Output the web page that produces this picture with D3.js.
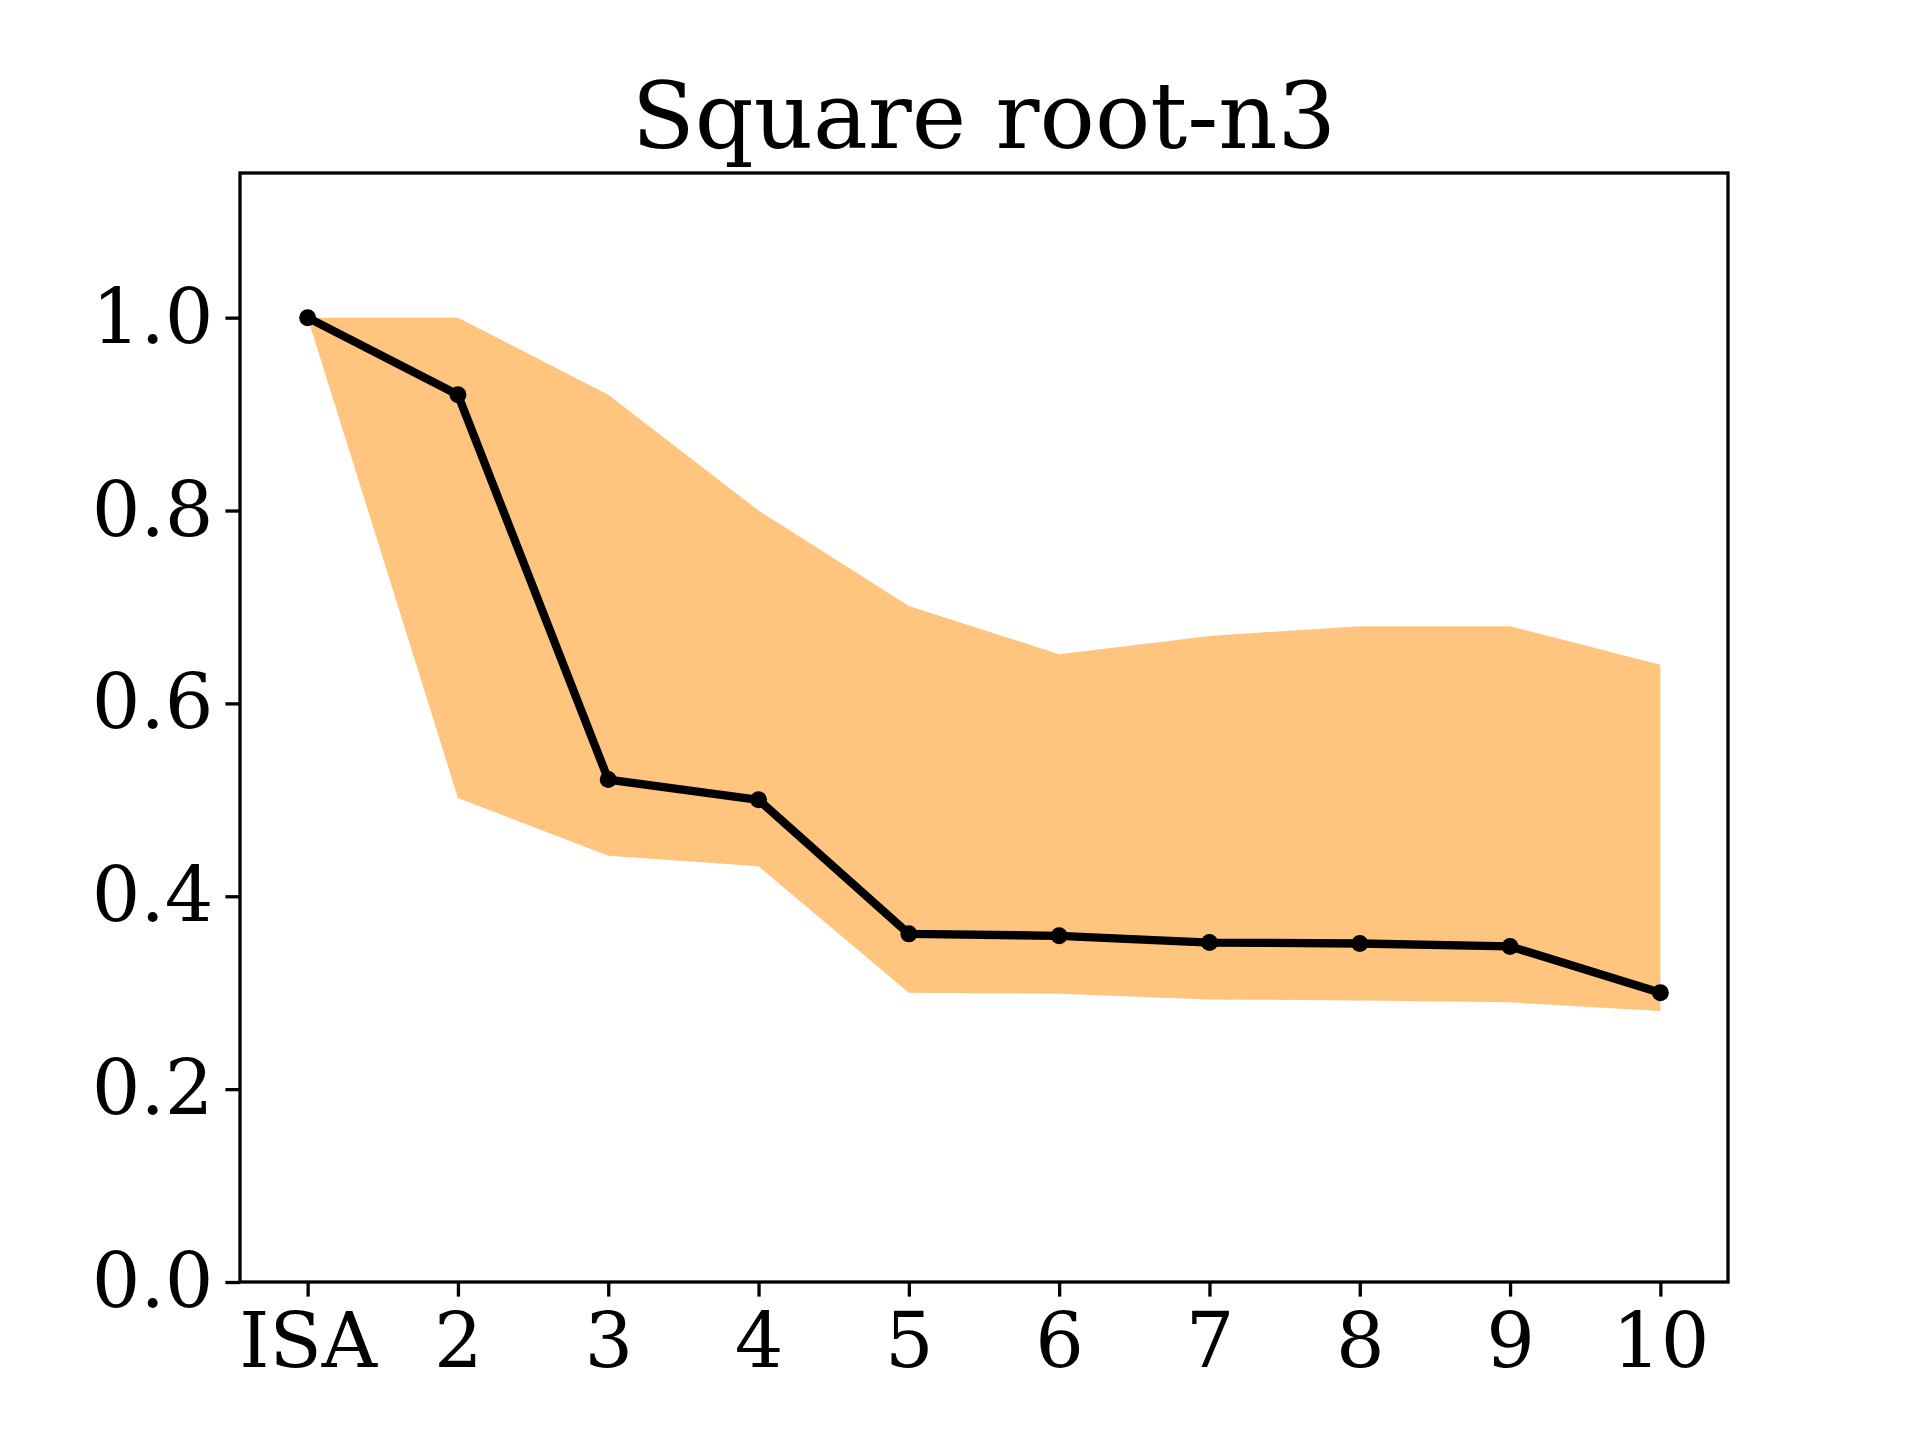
<!DOCTYPE html>
<html lang="en">
<head>
    <meta charset="UTF-8">
    <title>Square root-n3</title>
    <script src="https://cdnjs.cloudflare.com/ajax/libs/d3/7.8.5/d3.min.js"></script>
    <style>
        body, html {
            margin: 0;
            padding: 0;
            background: #fff;
            overflow: hidden;
        }
        text {
            font-family: "DejaVu Serif", serif;
        }
    </style>
</head>
<body>
    <div id="chart"></div>
    <script>
        // values
        const categories = ["ISA", "2", "3", "4", "5", "6", "7", "8", "9", "10"];
        const meanValues = [1.0, 0.920, 0.521, 0.500, 0.361, 0.359, 0.352, 0.351, 0.348, 0.300];
        const upperValues = [1.0, 1.0, 0.920, 0.800, 0.701, 0.651, 0.670, 0.680, 0.680, 0.640];
        const lowerValues = [1.0, 0.502, 0.442, 0.431, 0.300, 0.299, 0.293, 0.292, 0.290, 0.281];
        const yTicks = [0.0, 0.2, 0.4, 0.6, 0.8, 1.0];
        const title = "Square root-n3";

        const width = 1920, height = 1440;
        const margin = {left: 240, right: 192, top: 173, bottom: 158};

        const svg = d3.select("#chart")
            .append("svg")
            .attr("width", width)
            .attr("height", height);

        const x = d3.scaleLinear()
            .domain([-0.45, categories.length - 1 + 0.45])
            .range([margin.left, width - margin.right]);

        const y = d3.scaleLinear()
            .domain([0, 1.15])
            .range([height - margin.bottom, margin.top]);

        const rows = categories.map((c, i) => ({
            i, mean: meanValues[i], lo: lowerValues[i], hi: upperValues[i]
        }));

        // shaded band
        const area = d3.area()
            .x(d => x(d.i))
            .y0(d => y(d.lo))
            .y1(d => y(d.hi));

        svg.append("path")
            .datum(rows)
            .attr("d", area)
            .attr("fill", "#ffc57f");

        // mean line
        const line = d3.line()
            .x(d => x(d.i))
            .y(d => y(d.mean));

        svg.append("path")
            .datum(rows)
            .attr("d", line)
            .attr("fill", "none")
            .attr("stroke", "#000")
            .attr("stroke-width", 8.3)
            .attr("stroke-linejoin", "round");

        svg.selectAll("circle.pt")
            .data(rows)
            .enter()
            .append("circle")
            .attr("class", "pt")
            .attr("cx", d => x(d.i))
            .attr("cy", d => y(d.mean))
            .attr("r", 8.5)
            .attr("fill", "#000");

        // axes
        const xAxis = d3.axisBottom(x)
            .tickValues(d3.range(categories.length))
            .tickFormat(i => categories[i])
            .tickSize(14.6)
            .tickPadding(12);

        const yAxis = d3.axisLeft(y)
            .tickValues(yTicks)
            .tickFormat(d3.format(".1f"))
            .tickSize(14.6)
            .tickPadding(12);

        const gx = svg.append("g")
            .attr("transform", `translate(0,${height - margin.bottom})`)
            .call(xAxis);

        const gy = svg.append("g")
            .attr("transform", `translate(${margin.left},0)`)
            .call(yAxis);

        [gx, gy].forEach(g => {
            g.select(".domain").remove();
            g.selectAll(".tick line").attr("stroke", "#000").attr("stroke-width", 3.3);
            g.selectAll(".tick text")
                .attr("fill", "#000")
                .style("font-size", "76.5px")
                .style("font-family", "'DejaVu Serif', serif");
        });
        gx.selectAll(".tick text").attr("dy", "0.76em");

        // frame
        svg.append("rect")
            .attr("x", margin.left)
            .attr("y", margin.top)
            .attr("width", width - margin.left - margin.right)
            .attr("height", height - margin.top - margin.bottom)
            .attr("fill", "none")
            .attr("stroke", "#000")
            .attr("stroke-width", 3.3);

        svg.append("text")
            .attr("x", (margin.left + width - margin.right) / 2)
            .attr("y", margin.top - 25)
            .attr("text-anchor", "middle")
            .style("font-size", "92px")
            .attr("fill", "#000")
            .text(title);
    </script>
</body>
</html>
